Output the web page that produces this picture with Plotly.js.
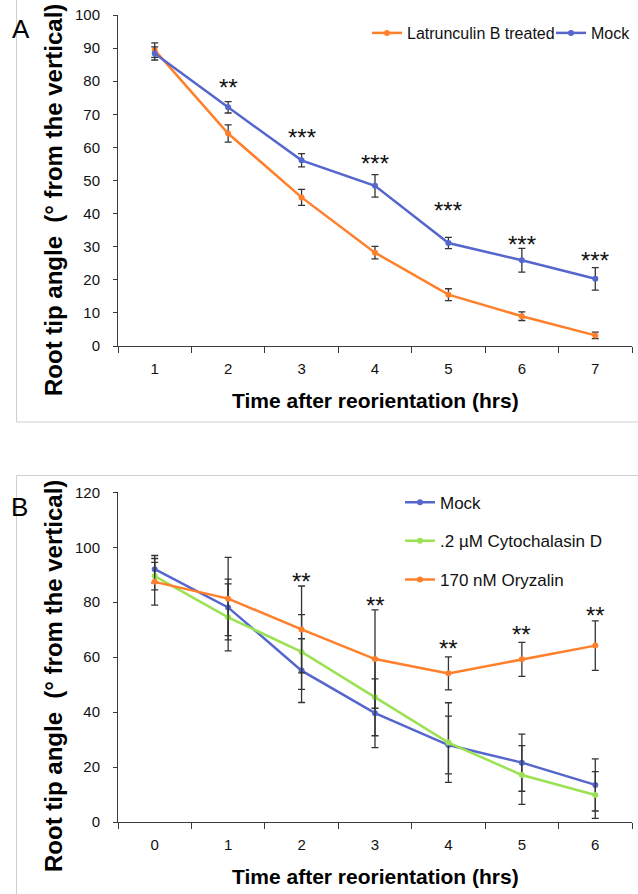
<!DOCTYPE html>
<html>
<head>
<meta charset="utf-8">
<script src="https://cdn.plot.ly/plotly-3.0.1.min.js"></script>
<style>
  html, body { margin: 0; padding: 0; background: #fff; }
  #chart { width: 638px; height: 894px; }
</style>
</head>
<body>
<div id="chart"></div>
<script>
// ---------- Panel A data ----------
var hoursA = ['1', '2', '3', '4', '5', '6', '7'];
var latrunculinA = [89.4, 64.2, 44.9, 28.2, 15.5, 9.0, 3.2];
var latrunculinErrA = [2.2, 2.6, 2.4, 1.9, 1.8, 1.3, 1.0];
var mockA = [88.4, 72.1, 56.1, 48.4, 31.1, 25.9, 20.3];
var mockErrA = [2.0, 1.7, 2.0, 3.4, 1.7, 3.6, 3.4];
var starsA = ['', '**', '***', '***', '***', '***', '***'];
var starLevelA = [null, 80, 64.7, 56.9, 42.7, 32.5, 27.7];

// ---------- Panel B data ----------
var hoursB = ['0', '1', '2', '3', '4', '5', '6'];
var mockB = [92.0, 78.1, 55.1, 39.6, 28.0, 21.6, 13.5];
var mockErrB = [5.0, 10.3, 11.6, 12.5, 10.5, 10.4, 9.5];
var cytoB = [89.5, 74.5, 61.9, 45.4, 28.9, 17.1, 9.8];
var cytoErrB = [5.0, 12.2, 13.6, 14.0, 14.5, 10.7, 8.5];
var oryzB = [87.4, 81.3, 70.1, 59.3, 54.1, 59.2, 64.2];
var oryzErrB = [8.5, 15.0, 15.8, 17.9, 6.0, 6.2, 9.0];
var starsB = ['', '', '**', '**', '**', '**', '**'];
var starLevelB = [null, null, 89.9, 81, 65.3, 70.5, 77.4];

// ---------- styling ----------
var W = 638, H = 894;
var ORANGE = '#FF7F2A', BLUE = '#5566CC', GREEN = '#9BE253';
var FONT = 'Liberation Sans, Arial, Helvetica, sans-serif';
var AXC = '#3a3a3a';

function px(x) { return x / W; }
function py(y) { return 1 - y / H; }

function series(x, y, err, name, color, xa, ya, leg, group) {
  return {
    type: 'scatter', mode: 'lines+markers', x: x, y: y, name: name,
    xaxis: xa, yaxis: ya, legend: leg, legendgroup: group,
    line: { color: color, width: 2.5 },
    marker: { color: color, size: 6 },
    error_y: { type: 'data', array: err, visible: true, color: '#333', thickness: 1.3, width: 3.5 }
  };
}

var data = [
  series(hoursA, latrunculinA, latrunculinErrA, 'Latrunculin B treated', ORANGE, 'x', 'y', 'legend', 'a1'),
  series(hoursA, mockA, mockErrA, 'Mock', BLUE, 'x', 'y', 'legend', 'a2'),
  series(hoursB, mockB, mockErrB, 'Mock', BLUE, 'x2', 'y2', 'legend2', 'b1'),
  series(hoursB, cytoB, cytoErrB, '.2 \u00b5M Cytochalasin D', GREEN, 'x2', 'y2', 'legend2', 'b2'),
  series(hoursB, oryzB, oryzErrB, '170 nM Oryzalin', ORANGE, 'x2', 'y2', 'legend2', 'b3')
];

function xaxisDef(anchor) {
  return {
    type: 'category', domain: [px(118), px(632)], anchor: anchor,
    range: [-0.5, 6.5], tickson: 'boundaries', ticks: 'outside', ticklen: 6,
    tickcolor: AXC, showline: true, linecolor: AXC, linewidth: 1,
    showgrid: false, zeroline: false, ticklabelstandoff: 9,
    tickfont: { family: FONT, size: 15, color: '#111' }
  };
}
function yaxisDef(anchor, domain, range, dtick) {
  return {
    domain: domain, anchor: anchor, range: range, dtick: dtick,
    ticks: 'outside', ticklen: 4, tickcolor: AXC, showline: true,
    linecolor: AXC, linewidth: 1, showgrid: false, zeroline: false,
    ticklabelstandoff: 10,
    tickfont: { family: FONT, size: 15, color: '#111' }
  };
}

var annotations = [];
function addStars(labels, levels, xref, yref) {
  for (var i = 0; i < labels.length; i++) {
    if (!labels[i]) continue;
    annotations.push({
      xref: xref, yref: yref, x: i, y: levels[i], text: labels[i],
      showarrow: false, xanchor: 'center', yanchor: 'middle', yshift: -6,
      font: { family: FONT, size: 24, color: '#111' }
    });
  }
}
addStars(starsA, starLevelA, 'x', 'y');
addStars(starsB, starLevelB, 'x2', 'y2');

var ytitle = 'Root tip angle  (\u00b0 from the vertical)';
var xtitle = 'Time after reorientation (hrs)';
[[200, 400], [676, 876.7]].forEach(function (p) {
  annotations.push({
    xref: 'paper', yref: 'paper', x: px(53), y: py(p[0]), text: '<b>' + ytitle + '</b>',
    textangle: -90, showarrow: false, xanchor: 'center', yanchor: 'middle',
    font: { family: FONT, size: 24, color: '#000' }
  });
  annotations.push({
    xref: 'paper', yref: 'paper', x: px(375), y: py(p[1]), text: '<b>' + xtitle + '</b>',
    showarrow: false, xanchor: 'center', yanchor: 'middle',
    font: { family: FONT, size: 21, color: '#000' }
  });
});
annotations.push({ xref: 'paper', yref: 'paper', x: px(21), y: py(29), text: 'A',
  showarrow: false, xanchor: 'center', yanchor: 'middle', font: { family: FONT, size: 26, color: '#000' } });
annotations.push({ xref: 'paper', yref: 'paper', x: px(19), y: py(507), text: 'B',
  showarrow: false, xanchor: 'center', yanchor: 'middle', font: { family: FONT, size: 26, color: '#000' } });

var frameColor = '#cfcfcf';
var shapes = [
  { type: 'line', xref: 'paper', yref: 'paper', x0: px(16.5), x1: px(16.5), y0: 1, y1: py(422), line: { color: frameColor, width: 1 } },
  { type: 'line', xref: 'paper', yref: 'paper', x0: px(16.5), x1: 1, y0: py(422), y1: py(422), line: { color: frameColor, width: 1 } },
  { type: 'line', xref: 'paper', yref: 'paper', x0: px(16.5), x1: 1, y0: py(475.5), y1: py(475.5), line: { color: frameColor, width: 1 } },
  { type: 'line', xref: 'paper', yref: 'paper', x0: px(16.5), x1: px(16.5), y0: py(475.5), y1: 0, line: { color: frameColor, width: 1 } }
];

var layout = {
  width: W, height: H,
  margin: { l: 0, r: 0, t: 0, b: 0, autoexpand: false },
  paper_bgcolor: '#fff', plot_bgcolor: 'rgba(0,0,0,0)',
  font: { family: FONT, color: '#111' },
  showlegend: true,
  xaxis: xaxisDef('y'),
  yaxis: yaxisDef('x', [py(346), py(15)], [0, 100], 10),
  xaxis2: xaxisDef('y2'),
  yaxis2: yaxisDef('x2', [py(822), py(492.3)], [0, 120], 20),
  legend: {
    orientation: 'h', x: px(367), xanchor: 'left', y: py(33), yanchor: 'middle',
    bgcolor: 'rgba(0,0,0,0)', borderwidth: 0, entrywidth: 139, entrywidthmode: 'pixels',
    font: { family: FONT, size: 16, color: '#111' }
  },
  legend2: {
    orientation: 'v', x: px(400), xanchor: 'left', y: py(484.7), yanchor: 'top',
    bgcolor: 'rgba(0,0,0,0)', borderwidth: 0, tracegroupgap: 13.5,
    font: { family: FONT, size: 17, color: '#111' }
  },
  annotations: annotations,
  shapes: shapes
};

Plotly.newPlot('chart', data, layout, { staticPlot: true });
</script>
</body>
</html>
